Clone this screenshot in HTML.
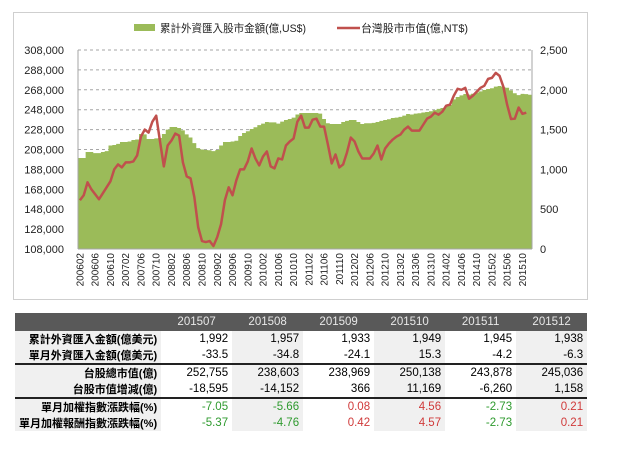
<!DOCTYPE html>
<html><head><meta charset="utf-8">
<style>
body{margin:0;width:619px;height:472px;background:#fff;overflow:hidden;font-family:"Liberation Sans","Noto Sans CJK TC",sans-serif;}
#frame{position:absolute;left:13px;top:12px;width:575px;height:288px;border:1px solid #cfcfcf;box-sizing:border-box;}
svg text{font-family:"Liberation Sans","Noto Sans CJK TC",sans-serif;}
table{position:absolute;left:15px;top:313px;border-collapse:collapse;font-size:11.5px;}
td,th{height:16px;padding:0 4px;text-align:right;white-space:nowrap;}
th{background:#595959;color:#e8e8e8;font-weight:normal;text-align:center;height:18px;}
td.l{width:134px;font-weight:bold;font-size:11px;background:#f0f0f0;}
td.v{width:63px;}
.g{background:#f0f0f0;}
tr.sep td{border-top:2px solid #222;}
.gr{color:#2e9a2e}.rd{color:#d03a3a}
</style></head><body>
<div id="frame"></div>
<svg id="chart" width="619" height="310" style="position:absolute;left:0;top:0"></svg>
<table>
<tr><th style="background:#595959"></th><th>201507</th><th>201508</th><th>201509</th><th>201510</th><th>201511</th><th>201512</th></tr>
<tr><td class="l">累計外資匯入金額(億美元)</td><td class="v">1,992</td><td class="v g">1,957</td><td class="v">1,933</td><td class="v g">1,949</td><td class="v">1,945</td><td class="v g">1,938</td></tr>
<tr><td class="l">單月外資匯入金額(億美元)</td><td class="v">-33.5</td><td class="v g">-34.8</td><td class="v">-24.1</td><td class="v g">15.3</td><td class="v">-4.2</td><td class="v g">-6.3</td></tr>
<tr class="sep"><td class="l">台股總市值(億)</td><td class="v">252,755</td><td class="v g">238,603</td><td class="v">238,969</td><td class="v g">250,138</td><td class="v">243,878</td><td class="v g">245,036</td></tr>
<tr><td class="l">台股市值增減(億)</td><td class="v">-18,595</td><td class="v g">-14,152</td><td class="v">366</td><td class="v g">11,169</td><td class="v">-6,260</td><td class="v g">1,158</td></tr>
<tr class="sep"><td class="l">單月加權指數漲跌幅(%)</td><td class="v gr">-7.05</td><td class="v g gr">-5.66</td><td class="v rd">0.08</td><td class="v g rd">4.56</td><td class="v gr">-2.73</td><td class="v g rd">0.21</td></tr>
<tr><td class="l">單月加權報酬指數漲跌幅(%)</td><td class="v gr">-5.37</td><td class="v g gr">-4.76</td><td class="v rd">0.42</td><td class="v g rd">4.57</td><td class="v gr">-2.73</td><td class="v g rd">0.21</td></tr>
</table>
<script>
const leftTicks=[108000,128000,148000,168000,188000,208000,228000,248000,268000,288000,308000];
const rightTicks=[0,500,1000,1500,2000,2500];
const inflow=[1143,1143,1218,1218,1205,1205,1218,1230,1300,1306,1320,1344,1344,1350,1369,1375,1444,1440,1382,1382,1390,1395,1444,1500,1532,1532,1520,1490,1440,1400,1330,1268,1250,1243,1240,1230,1243,1300,1344,1344,1350,1360,1420,1457,1480,1507,1530,1557,1575,1595,1590,1590,1575,1600,1620,1633,1650,1690,1708,1708,1708,1708,1708,1700,1633,1580,1570,1570,1570,1595,1610,1620,1620,1595,1570,1580,1580,1585,1595,1610,1620,1630,1645,1650,1660,1675,1696,1690,1700,1705,1715,1721,1730,1745,1760,1771,1790,1809,1880,1909,1930,1947,1940,1950,1965,1980,1997,2010,2020,2040,2047,2035,2025,1992,1957,1933,1949,1945,1938];
const marketCap=[157,162,175,168,163,158,164,170,176,188,193,190,195,195,196,202,221,228,225,236,242,216,191,212,217,224,222,195,181,179,160,130,116,115,116,111,120,133,157,170,162,177,188,188,196,209,199,192,201,206,191,189,199,198,212,216,219,236,242,230,230,238,239,231,231,213,194,203,190,193,205,220,216,206,199,199,199,204,212,198,209,214,218,221,223,228,231,227,227,227,233,239,241,245,243,246,252,253,262,269,268,270,259,262,266,270,272,279,280,285,282,271,252.755,238.603,238.969,250.138,243.878,245.036];
const startYear=2006,startMonth=2;
const svg=document.getElementById('chart');const NS='http://www.w3.org/2000/svg';
const X0=78,X1=532,Y0=249,Y1=50;
const n=inflow.length,bw=(X1-X0)/n;
const xc=i=>X0+(i+0.5)*bw;
const yL=v=>Y0-(v-108000)/200000*(Y0-Y1);
const yR=v=>Y0-v/2500*(Y0-Y1);
function mk(t,a){const e=document.createElementNS(NS,t);for(const k in a)e.setAttribute(k,a[k]);svg.appendChild(e);return e;}
leftTicks.forEach(v=>{if(v>108000){const g=mk('line',{x1:X0,x2:X1,y1:yL(v),y2:yL(v),stroke:'#a6a6a6','stroke-dasharray':'3,3','stroke-width':1});

}
const t=mk('text',{x:64,y:yL(v)+4,'text-anchor':'end','font-size':11,fill:'#222'});t.textContent=v.toLocaleString('en-US');

});
rightTicks.forEach(v=>{const t=mk('text',{x:540,y:yR(v)+4,'font-size':11,fill:'#222'});t.textContent=v.toLocaleString('en-US');

});
let d='M'+X0+','+Y0;
inflow.forEach((v,i)=>{d+=' L'+(X0+i*bw)+','+yR(v)+' L'+(X0+(i+1)*bw)+','+yR(v);});
d+=' L'+X1+','+Y0+' Z';
const area=mk('path',{d:d,fill:'#9bbb59'});


mk('line',{x1:X0,x2:X0,y1:Y1,y2:Y0,stroke:'#a6a6a6'});
mk('line',{x1:X0,x2:X1,y1:Y0,y2:Y0,stroke:'#a6a6a6'});
mk('line',{x1:X1,x2:X1,y1:Y1,y2:Y0,stroke:'#a6a6a6'});
const pts=marketCap.map((v,i)=>xc(i)+','+yL(v*1000)).join(' ');
const ln=mk('polyline',{points:pts,fill:'none',stroke:'#c0504d','stroke-width':2.5,'stroke-linejoin':'round'});


for(let i=0;i<n;i+=4){const m=startMonth-1+i;const y=startYear+Math.floor(m/12),mo=m%12+1;
const lab=''+y+(mo<10?'0':'')+mo;const x=xc(i)+3.5;
const t=mk('text',{x:x,y:253,'font-size':10,fill:'#222','text-anchor':'end',transform:'rotate(-90 '+x+' 253)'});t.textContent=lab;

}
const lr=mk('rect',{x:134,y:24,width:21,height:7,fill:'#9bbb59'});


const lt=mk('text',{x:160,y:32,'font-size':11,fill:'#222',textLength:146,lengthAdjust:'spacingAndGlyphs'});lt.textContent='累計外資匯入股市金額(億,US$)';


const ll=mk('line',{x1:337,x2:360,y1:28,y2:28,stroke:'#c0504d','stroke-width':2.5});


const lt2=mk('text',{x:361,y:32,'font-size':11,fill:'#222',textLength:107,lengthAdjust:'spacingAndGlyphs'});lt2.textContent='台灣股市市值(億,NT$)';


</script>
</body></html>
